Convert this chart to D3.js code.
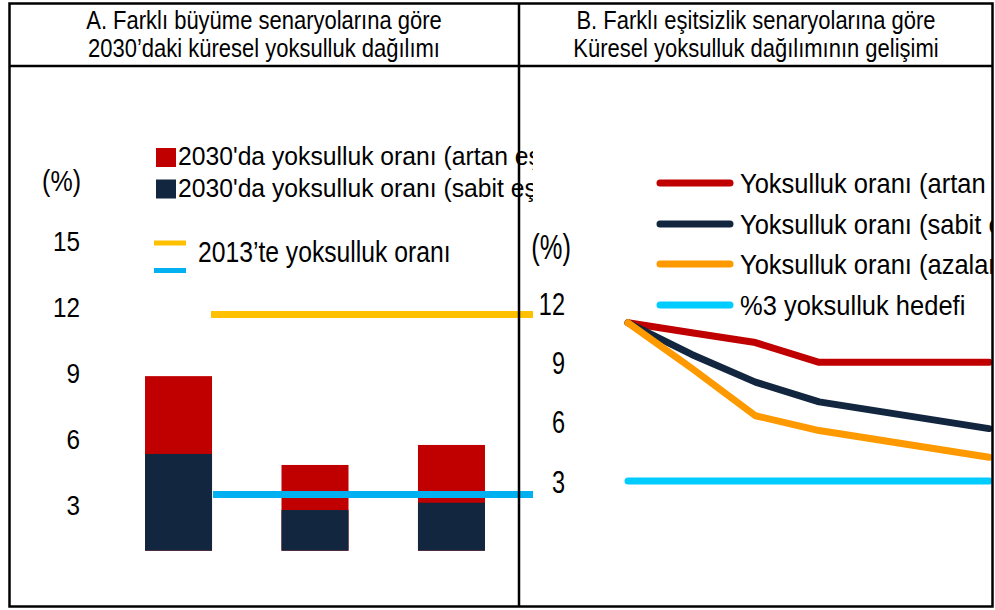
<!DOCTYPE html>
<html>
<head>
<meta charset="utf-8">
<script src="https://cdn.jsdelivr.net/npm/d3@7"></script>
<style>
  body { margin: 0; background: #fff; }
  text { font-family: Arial, "Liberation Sans", sans-serif; fill: #000; }
</style>
</head>
<body>
<div id="chart"></div>
<script>
// Panel A: 2030 poverty rate under growth scenarios (overlapping bars)
const scenarios = ['Senaryo 1', 'Senaryo 2', 'Senaryo 3'];
const rateRising = [8.94, 4.90, 5.81];     // artan eşitsizlik
const rateConstant = [5.40, 2.85, 3.18];   // sabit eşitsizlik
const rate2013 = 11.74;
const rateTargetA = 3.56;
const ticksA = [3, 6, 9, 12, 15];
const axisMinA = 1;

// Panel B: poverty path under inequality scenarios
const years = [2013, 2016, 2019, 2022, 2030];
const pathRising = [11.0, 10.5, 10.0, 9.0, 9.0];
const pathConstant = [11.0, 9.4, 8.0, 7.0, 5.65];
const pathFalling = [11.0, 8.7, 6.3, 5.55, 4.2];
const target = [3, 3, 3, 3, 3];
const ticksB = [3, 6, 9, 12];

const legendA = ["2030'da yoksulluk oranı (artan eşitsizlik)", "2030'da yoksulluk oranı (sabit eşitsizlik)"];
const legendB = ['Yoksulluk oranı (artan eşitsizlik)', 'Yoksulluk oranı (sabit eşitsizlik)',
  'Yoksulluk oranı (azalan eşitsizlik)', '%3 yoksulluk hedefi'];

const width = 995, height = 610;
const colRed = '#c00000', colNavy = '#13263f', colYellow = '#ffc000',
  colCyanA = '#00b0f0', colOrange = '#ff9900', colCyanB = '#00ccff';

const svg = d3.select('#chart').append('svg')
  .attr('width', width)
  .attr('height', height);

// text that is a bit taller than wide, like the source picture
function label(g, x, y, str, size, sy, anchor) {
  return g.append('text')
    .attr('transform', 'translate(' + x + ',' + y + ') scale(1,' + sy + ')')
    .attr('font-size', size)
    .attr('text-anchor', anchor || 'start')
    .text(str);
}

const defs = svg.append('defs');
defs.append('clipPath').attr('id', 'clipA')
  .append('rect').attr('x', 10).attr('y', 67).attr('width', 523).attr('height', 539);
defs.append('clipPath').attr('id', 'clipB')
  .append('rect').attr('x', 520).attr('y', 67).attr('width', 472).attr('height', 539);

// ---------- Panel A ----------
const gA = svg.append('g').attr('clip-path', 'url(#clipA)');

const xA = d3.scaleBand()
  .domain(scenarios)
  .range([110.9, 519.1])
  .paddingInner(0.509)
  .paddingOuter(0.25);

const yA = d3.scaleLinear()
  .domain([axisMinA, 15])
  .range([550.7, 242.9]);

// red (rising inequality) behind, navy (constant) in front
gA.selectAll('.barRed')
  .data(rateRising)
  .enter().append('rect')
  .attr('x', (d, i) => xA(scenarios[i]))
  .attr('width', xA.bandwidth())
  .attr('y', d => yA(d))
  .attr('height', d => yA(axisMinA) - yA(d))
  .attr('fill', colRed);

gA.selectAll('.barNavy')
  .data(rateConstant)
  .enter().append('rect')
  .attr('x', (d, i) => xA(scenarios[i]))
  .attr('width', xA.bandwidth())
  .attr('y', d => yA(d))
  .attr('height', d => yA(axisMinA) - yA(d))
  .attr('fill', colNavy);

// reference lines start at the right edge of the first bar
const refStart = xA(scenarios[0]) + xA.bandwidth();
gA.append('line')
  .attr('x1', refStart - 1).attr('x2', 560)
  .attr('y1', yA(rate2013)).attr('y2', yA(rate2013))
  .attr('stroke', colYellow).attr('stroke-width', 7);
gA.append('line')
  .attr('x1', refStart + 1).attr('x2', 560)
  .attr('y1', yA(rateTargetA)).attr('y2', yA(rateTargetA))
  .attr('stroke', colCyanA).attr('stroke-width', 7);

// tick labels
ticksA.forEach(t => {
  label(gA, 80, yA(t) + 8.5, t, 24.3, 1.15, 'end');
});
label(gA, 81, 191, '(%)', 25, 1.15, 'end');

// legend
gA.append('rect').attr('x', 156).attr('y', 148).attr('width', 20).attr('height', 19).attr('fill', colRed);
gA.append('rect').attr('x', 156).attr('y', 179.5).attr('width', 20).attr('height', 19).attr('fill', colNavy);
label(gA, 178, 165, legendA[0], 24.7, 1.02);
label(gA, 178, 196.5, legendA[1], 24.7, 1.02);
gA.append('rect').attr('x', 154).attr('y', 240.5).attr('width', 32).attr('height', 5).attr('fill', colYellow);
gA.append('rect').attr('x', 154).attr('y', 268).attr('width', 32).attr('height', 5).attr('fill', colCyanA);
label(gA, 198, 261.5, "2013’te yoksulluk oranı", 24.7, 1.2);

// ---------- Panel B ----------
const gB = svg.append('g').attr('clip-path', 'url(#clipB)');

const xB = d3.scaleLinear()
  .domain([2013, 2030])
  .range([628, 989]);

const yB = d3.scaleLinear()
  .domain([3, 12])
  .range([481, 303]);

const line = d3.line()
  .x((d, i) => xB(years[i]))
  .y(d => yB(d));

const seriesB = [
  { values: target, color: colCyanB },
  { values: pathRising, color: colRed },
  { values: pathConstant, color: colNavy },
  { values: pathFalling, color: colOrange }
];

gB.selectAll('.path')
  .data(seriesB)
  .enter().append('path')
  .attr('d', d => line(d.values))
  .attr('fill', 'none')
  .attr('stroke', d => d.color)
  .attr('stroke-width', 7)
  .attr('stroke-linecap', 'round')
  .attr('stroke-linejoin', 'round');

ticksB.forEach(t => {
  label(gB, 565, yB(t) + 11.5, t, 23.5, 1.36, 'end');
});
label(gB, 571, 259, '(%)', 25.5, 1.35, 'end');

// legend
const legColors = [colRed, colNavy, colOrange, colCyanB];
const legY = [183, 224, 264, 305];
legendB.forEach((s, i) => {
  gB.append('line')
    .attr('x1', 660).attr('x2', 730)
    .attr('y1', legY[i]).attr('y2', legY[i])
    .attr('stroke', legColors[i]).attr('stroke-width', 7)
    .attr('stroke-linecap', 'round');
  label(gB, 740, legY[i] + 10, s, 25.5, 1.1);
});

// ---------- titles and frame ----------
label(svg, 264, 29, 'A. Farklı büyüme senaryolarına göre', 22, 1.2, 'middle');
label(svg, 264, 57, '2030’daki küresel yoksulluk dağılımı', 22, 1.2, 'middle');
label(svg, 756, 29, 'B. Farklı eşitsizlik senaryolarına göre', 22, 1.2, 'middle');
label(svg, 756, 57, 'Küresel yoksulluk dağılımının gelişimi', 22, 1.2, 'middle');

svg.append('rect')
  .attr('x', 9.5).attr('y', 3.5).attr('width', 983).attr('height', 603)
  .attr('fill', 'none').attr('stroke', '#000').attr('stroke-width', 2.5);
svg.append('line')
  .attr('x1', 9.5).attr('x2', 992.5).attr('y1', 66).attr('y2', 66)
  .attr('stroke', '#000').attr('stroke-width', 2.5);
svg.append('line')
  .attr('x1', 519).attr('x2', 519).attr('y1', 3.5).attr('y2', 606.5)
  .attr('stroke', '#000').attr('stroke-width', 2.5);
</script>
</body>
</html>
